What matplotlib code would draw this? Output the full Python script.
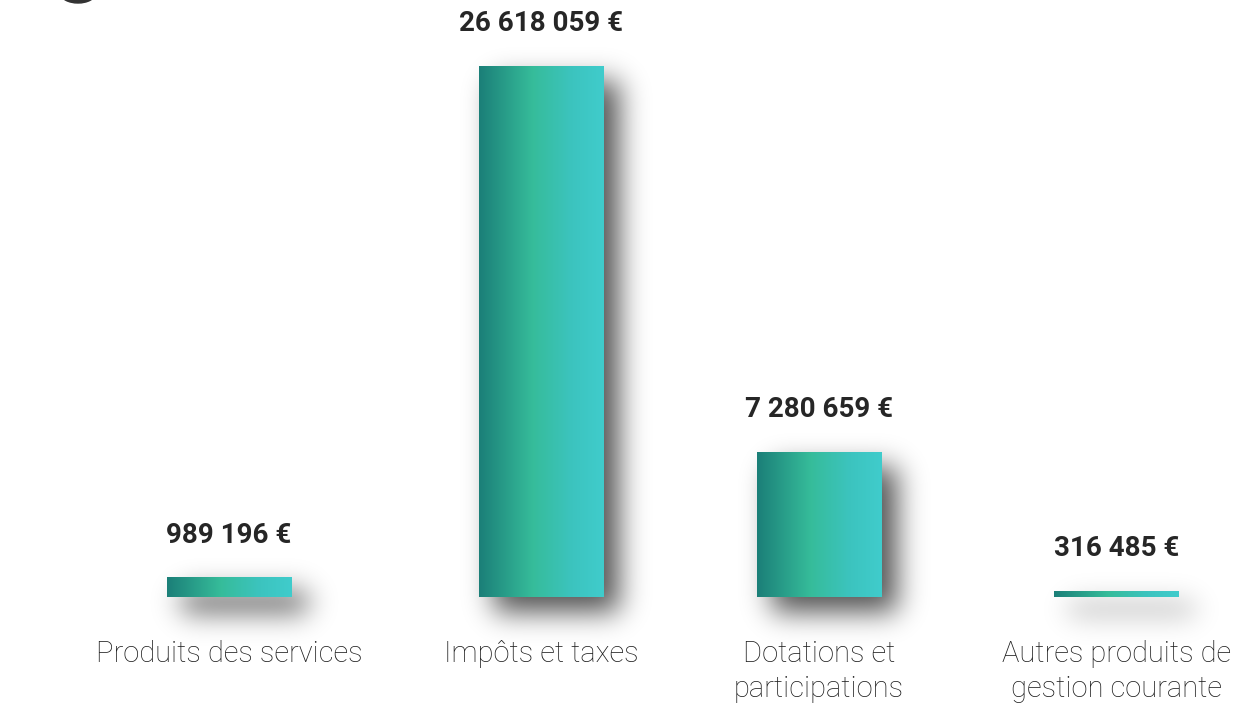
import numpy as np
import matplotlib
matplotlib.use("Agg")
import matplotlib.pyplot as plt
from matplotlib.colors import LinearSegmentedColormap
from matplotlib.patches import Ellipse

# Data
categories = ["Produits des services", "Impôts et taxes",
              "Dotations et\nparticipations", "Autres produits de\ngestion courante"]
values = [989196, 26618059, 7280659, 316485]
value_labels = ["989 196 €", "26 618 059 €", "7 280 659 €", "316 485 €"]

# layout: bar centres are not evenly spaced in the original
x = np.array([0, 1.055, 1.994, 3.0])

plt.rcParams['font.family'] = ['Roboto', 'DejaVu Sans']

W, H, DPI = 1240, 708, 100
fig = plt.figure(figsize=(W / DPI, H / DPI), dpi=DPI, facecolor='white')
ax = fig.add_axes([0, 111 / H, 1, 531 / H])
ax.patch.set_alpha(0)

bar_w = 0.422
bars = ax.bar(x, values, width=bar_w, color='none', edgecolor='none', zorder=2)

# horizontal gradient inside each bar
cmap = LinearSegmentedColormap.from_list(
    "teal", [(0, "#1b7f78"), (0.43, "#36bc9a"), (0.75, "#3cc4bf"), (1, "#40cccc")], N=256)
grad = np.linspace(0, 1, 256).reshape(1, -1)
for b in bars:
    x0, y0 = b.get_x(), b.get_y()
    im = ax.imshow(grad, extent=[x0, x0 + b.get_width(), y0, y0 + b.get_height()],
                   aspect='auto', cmap=cmap, zorder=3, interpolation='bilinear')
    im.set_clip_path(b)
ax.set_xlim(-0.774, 3.416)
ax.set_ylim(0, max(values))

# blurred drop shadow, computed in figure pixels
mask = np.zeros((H, W))
off = 15
for b in bars:
    (px0, py0), (px1, py1) = ax.transData.transform(
        [(b.get_x(), b.get_y()), (b.get_x() + b.get_width(), b.get_y() + b.get_height())])
    r0, r1 = int(round(py0)) - off, int(round(py1)) - off
    c0, c1 = int(round(px0)) + off, int(round(px1)) + off
    mask[max(r0, 0):max(r1, r0 + 1), max(c0, 0):c1] = 1.0
sigma = 14
k = np.arange(-3 * sigma, 3 * sigma + 1)
kern = np.exp(-k ** 2 / (2 * sigma ** 2))
kern /= kern.sum()
mask = np.apply_along_axis(lambda r: np.convolve(r, kern, mode='same'), 1, mask)
mask = np.apply_along_axis(lambda c: np.convolve(c, kern, mode='same'), 0, mask)
shadow = np.zeros((H, W, 4))
shadow[..., 3] = np.clip(mask * 0.68, 0, 1)
fig.figimage(shadow, origin='lower', zorder=-1)

# value labels above bars
for xi, v, lab in zip(x, values, value_labels):
    ax.annotate(lab, (xi, v), xytext=(0, 25), textcoords='offset points',
                ha='center', va='baseline', fontsize=20, fontweight='bold',
                color='#262626', annotation_clip=False)

ax.set_xticks(x)
ax.set_xticklabels(categories, fontsize=21, fontweight='light', color='#1e1e1e',
                   linespacing=1.32)
ax.tick_params(axis='x', length=0, pad=31)
ax.set_yticks([])
for s in ax.spines.values():
    s.set_visible(False)

# partial dark shape at the top-left corner
fig.patches.append(Ellipse((78 / W, 1 - (-6) / H), 34 / W, 18 / H,
                           transform=fig.transFigure, color='#333333'))

fig.savefig("out.png", dpi=DPI, facecolor='white')
